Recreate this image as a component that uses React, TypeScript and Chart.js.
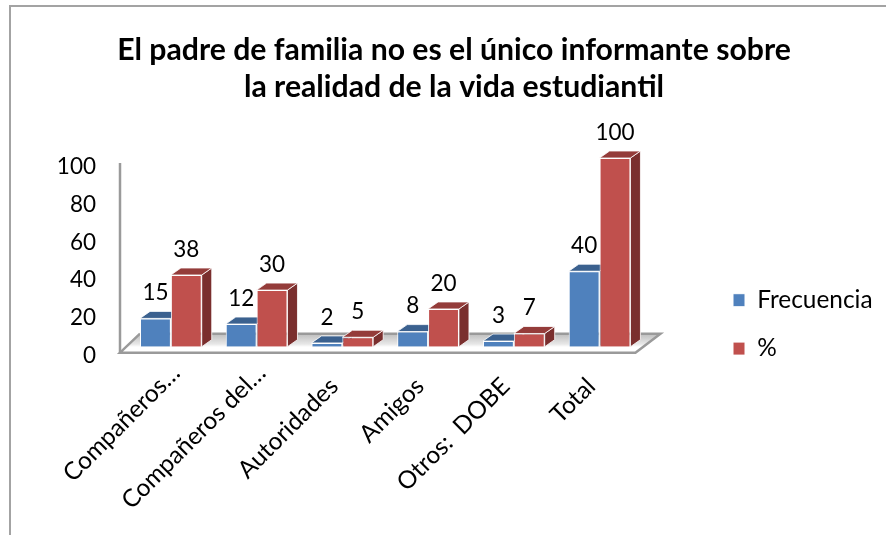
import React, { useEffect, useRef } from "react";
import { Chart, registerables } from "chart.js";

Chart.register(...registerables);

const titleLines = [
  "El padre de familia no es el único informante sobre",
  "la realidad de la vida estudiantil",
];
const categories = ["Compañeros…", "Compañeros del…", "Autoridades", "Amigos", "Otros:  DOBE", "Total"];
const frecuencia = [15, 12, 2, 8, 3, 40];
const porcentaje = [38, 30, 5, 20, 7, 100];
const seriesNames = ["Frecuencia", "%"];
const yTickStep = 20;

const BLUE = "#4F81BD";
const RED = "#C0504D";
const BLUE_TOP = "#3B618F";
const BLUE_SIDE = "#2F4E74";
const RED_TOP = "#943C3A";
const RED_SIDE = "#7A2F2E";
const AXIS_GRAY = "#9A9A9A";
const FONT = "Lato";
const DEPTH_X = 10;
const DEPTH_Y = 7;

function poly(ctx: CanvasRenderingContext2D, pts: number[][], fill: any, stroke?: string, lw = 1) {
  ctx.beginPath();
  pts.forEach((p, i) => (i ? ctx.lineTo(p[0], p[1]) : ctx.moveTo(p[0], p[1])));
  ctx.closePath();
  if (fill) {
    ctx.fillStyle = fill;
    ctx.fill();
  }
  if (stroke) {
    ctx.strokeStyle = stroke;
    ctx.lineWidth = lw;
    ctx.stroke();
  }
}

const framePlugin = {
  id: "frame",
  beforeDraw(chart: any) {
    const { ctx, width, height } = chart;
    ctx.save();
    ctx.fillStyle = "#A3A3A3";
    ctx.fillRect(9, 5, width - 9, 2);
    ctx.fillRect(9, 5, 2, height - 5);
    ctx.restore();
  },
};

const placeBoxesPlugin = {
  id: "placeBoxes",
  afterLayout(chart: any) {
    const lg = chart.legend;
    const w = lg.width;
    const h = lg.height;
    lg.left = 709;
    lg.right = 709 + w;
    lg.top = 264;
    lg.bottom = 264 + h;
    const t = chart.titleBlock;
    t.left += 35;
    t.right += 35;
  },
};

const floorPlugin = {
  id: "floor3d",
  beforeDatasetsDraw(chart: any) {
    const { ctx, chartArea: a, scales } = chart;
    const y0 = scales.y.getPixelForValue(0);
    const yTop = scales.y.getPixelForValue(100);
    const fl = [a.left - 8, y0 + 6];
    const fr = [a.right - 7, y0 + 6];
    const br = [a.right + 18, y0 - 13];
    const bl = [a.left + 12, y0 - 13];
    ctx.save();
    const g = ctx.createLinearGradient(0, y0 - 13, 0, y0 + 6);
    g.addColorStop(0, "#BDBDBD");
    g.addColorStop(0.55, "#E8E8E8");
    g.addColorStop(0.7, "#FFFFFF");
    g.addColorStop(1, "#FFFFFF");
    poly(ctx, [fl, fr, br, bl], g);
    ctx.strokeStyle = AXIS_GRAY;
    ctx.lineWidth = 2.5;
    ctx.beginPath();
    ctx.moveTo(bl[0], bl[1]);
    ctx.lineTo(br[0], br[1]);
    ctx.lineTo(fr[0], fr[1]);
    ctx.lineTo(fl[0], fl[1]);
    ctx.lineTo(bl[0], bl[1]);
    ctx.stroke();
    ctx.beginPath();
    ctx.moveTo(fl[0], fl[1]);
    ctx.lineTo(fl[0], yTop + 5);
    ctx.stroke();

    [0, 1].forEach((ds) => {
      const top = ds ? RED_TOP : BLUE_TOP;
      const side = ds ? RED_SIDE : BLUE_SIDE;
      chart.getDatasetMeta(ds).data.forEach((bar: any) => {
        const l = bar.x - bar.width / 2;
        const r = bar.x + bar.width / 2;
        const t = bar.y;
        const b = bar.base;
        poly(ctx, [[r, t], [r + DEPTH_X, t - DEPTH_Y], [r + DEPTH_X, b - DEPTH_Y], [r, b]], side, "#FFFFFF", 0.8);
        poly(ctx, [[l, t], [r, t], [r + DEPTH_X, t - DEPTH_Y], [l + DEPTH_X, t - DEPTH_Y]], top, "#FFFFFF", 0.8);
      });
    });
    ctx.restore();
  },
};

const valueLabelPlugin = {
  id: "valueLabels",
  afterDatasetsDraw(chart: any) {
    const { ctx } = chart;
    ctx.save();
    ctx.font = `22.5px ${FONT}`;
    ctx.fillStyle = "#000000";
    ctx.textAlign = "center";
    ctx.textBaseline = "middle";
    [0, 1].forEach((ds) => {
      const values = chart.data.datasets[ds].data;
      chart.getDatasetMeta(ds).data.forEach((bar: any, i: number) => {
        ctx.fillText(String(values[i]), bar.x, bar.y - 25.5);
      });
    });
    ctx.restore();
  },
};

export default function App() {
  const ref = useRef<HTMLCanvasElement>(null);
  useEffect(() => {
    const chart = new Chart(ref.current as HTMLCanvasElement, {
      type: "bar",
      data: {
        labels: categories,
        datasets: [
          { label: seriesNames[0], data: frecuencia, backgroundColor: BLUE, borderColor: "#FFFFFF", borderWidth: 1 },
          { label: seriesNames[1], data: porcentaje, backgroundColor: RED, borderColor: "#FFFFFF", borderWidth: 1 },
        ],
      },
      options: {
        responsive: false,
        animation: false,
        layout: { padding: { left: 22, right: 70, top: 0, bottom: 0 } },
        datasets: { bar: { barPercentage: 1, categoryPercentage: 0.72 } },
        plugins: {
          title: {
            display: true,
            text: titleLines,
            color: "#000000",
            font: { family: FONT, size: 30.2, weight: "bold", lineHeight: 37 / 30.2 },
            padding: { top: 31.5, bottom: 52.5 },
          },
          legend: {
            position: "right",
            align: "start",
            labels: {
              boxWidth: 12,
              boxHeight: 13,
              padding: 24,
              color: "#000000",
              font: { family: FONT, size: 24.4 },
            },
          },
          tooltip: { enabled: false },
        },
        scales: {
          x: {
            grid: { display: false },
            border: { display: false },
            afterFit(s: any) {
              s.height = 535 - 346.7;
            },
            ticks: {
              autoSkip: false,
              minRotation: 45,
              maxRotation: 45,
              padding: 4,
              labelOffset: 5,
              color: "#000000",
              font: { family: FONT, size: 24.4 },
              callback(this: any, value: any) {
                const label = String(this.getLabelForValue(value));
                return label.endsWith("…") ? label : label + "   ";
              },
            },
          },
          y: {
            min: 0,
            max: 100,
            grid: { display: false },
            border: { display: false },
            afterFit(s: any) {
              s.width = 128 - 22;
            },
            ticks: {
              stepSize: yTickStep,
              padding: 24,
              labelOffset: 9,
              color: "#000000",
              font: { family: FONT, size: 22.5 },
            },
          },
        },
      } as any,
      plugins: [framePlugin, placeBoxesPlugin, floorPlugin, valueLabelPlugin],
    });
    return () => chart.destroy();
  }, []);
  return (
    <div style={{ position: "fixed", left: 0, top: 0, width: 886, height: 535, overflow: "hidden", background: "#fff" }}>
      <canvas ref={ref} width={886} height={535} style={{ display: "block" }} />
    </div>
  );
}
